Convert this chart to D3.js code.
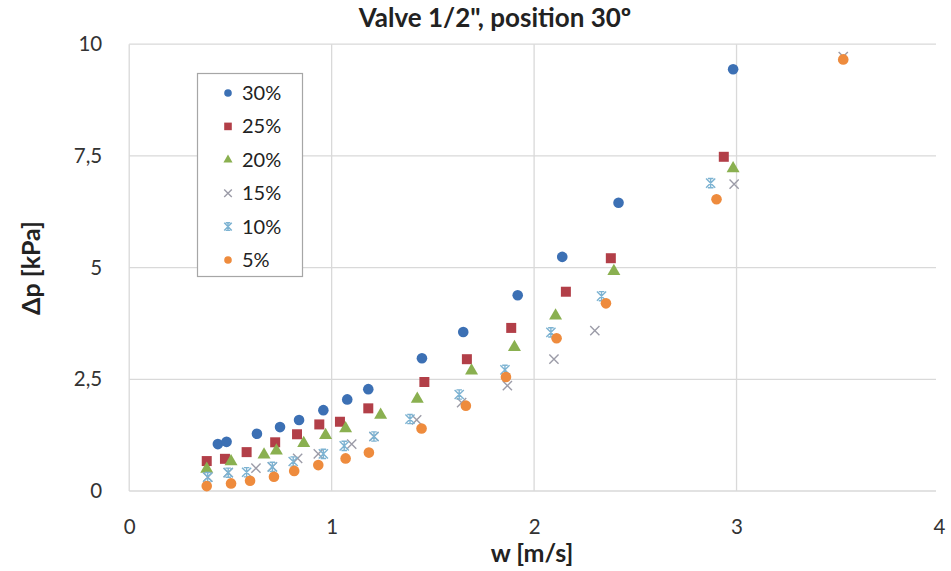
<!DOCTYPE html>
<html><head><meta charset="utf-8">
<script src="https://cdn.jsdelivr.net/npm/d3@7"></script>
<style>
html,body{margin:0;padding:0;background:#fff;}
svg text{font-family:Lato,"Open Sans","Noto Sans",sans-serif;}
</style></head>
<body><svg id="chart" width="951" height="571"></svg>
<script>
// ---- data ----
const seriesNames = ["30%", "25%", "20%", "15%", "10%", "5%"];
const w30 = [0.438,0.481,0.631,0.745,0.839,0.959,1.077,1.181,1.446,1.650,1.919,2.139,2.417,2.983];
const p30 = [1.05,1.10,1.28,1.43,1.59,1.81,2.05,2.28,2.97,3.56,4.38,5.24,6.45,9.44];
const w25 = [0.383,0.473,0.580,0.721,0.829,0.939,1.041,1.181,1.458,1.668,1.887,2.157,2.379,2.937];
const p25 = [0.67,0.72,0.87,1.09,1.27,1.49,1.55,1.85,2.44,2.95,3.65,4.46,5.21,7.48];
const w20 = [0.383,0.503,0.666,0.727,0.862,0.970,1.069,1.242,1.423,1.691,1.903,2.106,2.394,2.983];
const p20 = [0.49,0.66,0.81,0.90,1.07,1.25,1.40,1.70,2.06,2.69,3.22,3.92,4.92,7.22];
const w15 = [0.388,0.489,0.626,0.707,0.832,0.934,1.099,1.209,1.420,1.642,1.868,2.098,2.300,2.988,3.527];
const p15 = [0.31,0.41,0.51,0.54,0.73,0.83,1.05,1.22,1.59,1.98,2.36,2.95,3.59,6.87,9.72];
const w10 = [0.388,0.489,0.580,0.707,0.810,0.959,1.062,1.209,1.387,1.630,1.856,2.083,2.333,2.872];
const p10 = [0.31,0.41,0.42,0.54,0.66,0.83,1.01,1.22,1.61,2.16,2.71,3.55,4.36,6.89];
const w5  = [0.383,0.503,0.597,0.715,0.815,0.934,1.069,1.184,1.444,1.663,1.861,2.111,2.355,2.901,3.527];
const p5  = [0.11,0.17,0.23,0.32,0.45,0.58,0.73,0.86,1.40,1.91,2.55,3.42,4.20,6.53,9.66];
const xTicks = [0, 1, 2, 3, 4];
const yTicks = [0, 2.5, 5, 7.5, 10];
const yTickLabels = ["0", "2,5", "5", "7,5", "10"];
const titleText = "Valve 1/2\", position 30º";
const xTitle = "w [m/s]";
const yTitle = "Δp [kPa]";

// ---- styles ----
const colors = ["#3C70B4", "#B23F48", "#8AB050", "#9C9CA8", "#7DB3D2", "#EE8B3D"];
const shapes = ["circle", "square", "triangle", "x", "star", "circle"];
const wData = [w30, w25, w20, w15, w10, w5];
const pData = [p30, p25, p20, p15, p10, p5];

const svg = d3.select("#chart");
const L = 129.2, R = 939, T = 44.2, B = 491;
const x = d3.scaleLinear().domain([0, 4]).range([L, R]);
const y = d3.scaleLinear().domain([0, 10]).range([B, T]);

// gridlines
svg.append("g").selectAll("line.h").data(yTicks).join("line")
  .attr("x1", L).attr("x2", R - 3).attr("y1", d => y(d)).attr("y2", d => y(d))
  .attr("stroke", "#d9d9d9").attr("stroke-width", 1.3);
svg.append("g").selectAll("line.v").data(xTicks.filter(d => d < 4)).join("line")
  .attr("x1", d => x(d)).attr("x2", d => x(d)).attr("y1", T).attr("y2", B)
  .attr("stroke", "#d9d9d9").attr("stroke-width", 1.3);

// axes (labels only)
const xAxis = d3.axisBottom(x).tickValues(xTicks).tickSize(0).tickPadding(28).tickFormat(d3.format("d"));
const gx = svg.append("g").attr("transform", `translate(0,${B})`).call(xAxis);
gx.select(".domain").remove();
gx.selectAll("text").attr("font-size", 20.5).attr("fill", "#333").style("font-family", "Lato,'Open Sans',sans-serif");

const yAxis = d3.axisLeft(y).tickValues(yTicks).tickSize(0).tickPadding(27).tickFormat((d, i) => yTickLabels[i]);
const gy = svg.append("g").attr("transform", `translate(${L},0)`).call(yAxis);
gy.select(".domain").remove();
gy.selectAll("text").attr("font-size", 20.5).attr("fill", "#333").style("font-family", "Lato,'Open Sans',sans-serif");

// titles
svg.append("text").attr("x", 495).attr("y", 27).attr("text-anchor", "middle")
  .attr("font-size", 26).attr("font-weight", "bold").attr("fill", "#222").text(titleText);
svg.append("text").attr("x", 532).attr("y", 562).attr("text-anchor", "middle")
  .attr("font-size", 25).attr("font-weight", "bold").attr("fill", "#222").text(xTitle);
svg.append("text").attr("transform", "translate(40,268) rotate(-90)").attr("text-anchor", "middle")
  .attr("font-size", 25).attr("font-weight", "bold").attr("fill", "#222").text(yTitle);

// markers
function markerPath(shape, s) {
  if (shape === "circle") return d3.symbol(d3.symbolCircle, Math.PI * s * s)();
  if (shape === "square") return d3.symbol(d3.symbolSquare, (2 * s) * (2 * s))();
  if (shape === "triangle") return d3.symbol(d3.symbolTriangle, s * s * 2.5)();
  if (shape === "x") return `M${-s},${-s}L${s},${s}M${-s},${s}L${s},${-s}`;
  if (shape === "star") return `M${-s},${-s}L${s},${s}M${-s},${s}L${s},${-s}M0,${-s}L0,${s}M${-s*0.6},${-s}L${s*0.6},${-s}M${-s*0.6},${s}L${s*0.6},${s}`;
}
function drawMarker(g, shape, color, s) {
  const p = g.append("path").attr("d", markerPath(shape, s));
  if (shape === "x" || shape === "star") p.attr("fill", "none").attr("stroke", color).attr("stroke-width", 1.4);
  else p.attr("fill", color);
  return p;
}
const sizes = [5.3, 5, 5.4, 4.6, 4.6, 5.3];
const plot = svg.append("g");
wData.forEach((ws, si) => {
  const pts = ws.map((w, i) => ({ w, p: pData[si][i] }));
  const g = plot.append("g");
  g.selectAll("g").data(pts).join("g")
    .attr("transform", d => `translate(${x(d.w)},${y(d.p)})`)
    .each(function () { drawMarker(d3.select(this), shapes[si], colors[si], sizes[si]); });
});

// legend
const leg = svg.append("g");
leg.append("rect").attr("x", 197.5).attr("y", 73.5).attr("width", 105).attr("height", 203)
  .attr("fill", "#fff").attr("stroke", "#a6a6a6").attr("stroke-width", 1.2);
seriesNames.forEach((name, i) => {
  const cy = 93 + i * 33.4;
  const g = leg.append("g").attr("transform", `translate(228,${cy})`);
  drawMarker(g, shapes[i], colors[i], 3.8);
  leg.append("text").attr("x", 242).attr("y", cy + 7).attr("font-size", 20).attr("fill", "#222").text(name);
});
</script></body></html>
